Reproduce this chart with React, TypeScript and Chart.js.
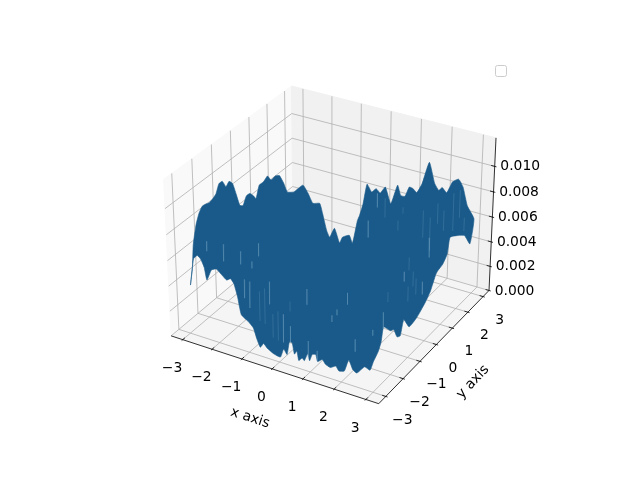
import React, { useEffect, useRef } from "react";
import { Chart, registerables } from "chart.js";

Chart.register(...registerables);

// Tick values and labels
const xTicks = [-3, -2, -1, 0, 1, 2, 3];
const yTicks = [-3, -2, -1, 0, 1, 2, 3];
const zTicks = [0, 0.002, 0.004, 0.006, 0.008, 0.01];
const xTickLabels = ["\u22123", "\u22122", "\u22121", "0", "1", "2", "3"];
const yTickLabels = ["\u22123", "\u22122", "\u22121", "0", "1", "2", "3"];
const zTickLabels = ["0.000", "0.002", "0.004", "0.006", "0.008", "0.010"];
const xTitle = "x axis";
const yTitle = "y axis";

// Surface outline, height in thousandths, read along the four borders of the grid.
// Border y = -3, going from x = -3 to x = 3
const southX = [-2.93, -2.79, -2.66, -2.55, -2.44, -2.36, -2.2, -2.03, -1.7, -1.57, -1.46, -1.35, -1.24, -1.02, -0.85, -0.74, -0.63, -0.52, -0.41, -0.19, 0.03, 0.14, 0.25, 0.33, 0.42, 0.49, 0.57, 0.63, 0.74, 0.81, 0.92, 0.98, 1.07, 1.18, 1.24, 1.39, 1.49, 1.65, 1.82, 1.92, 2.09, 2.23, 2.36, 2.49, 2.73, 2.9];
const southZ = [3.92, 6.08, 6.44, 6.25, 5.68, 4.73, 5.63, 5.83, 5.21, 5.41, 5.1, 4.15, 2.82, 2.46, 2.07, 1.26, 0.69, 1.08, 0.81, 0.51, 0.42, 1.15, 0.8, 1.87, 1.86, 1.02, 1.33, 0.62, 0.91, 0.75, 1.39, 0.88, 1.46, 1.53, 1.02, 1.31, 1.01, 0.87, 1.13, 0.82, 0.94, 1.93, 1.27, 1.11, 1.79, 1.66];
// Border x = 3, going from y = -3 to y = 3
const eastY = [-3, -2.73, -2.57, -2.44, -2.05, -1.85, -1.65, -1.46, -1.27, -0.94, -0.49, 0, 0.32, 0.63, 0.74, 1.05, 1.32, 1.47, 2.0, 2.41, 2.79];
const eastZ = [2.4, 2.83, 3.38, 4.35, 3.54, 3.36, 2.52, 2.35, 3.38, 2.37, 2.5, 3.03, 3.56, 4.5, 4.64, 4.79, 5.27, 6.41, 5.92, 5.42, 4.29];
// Border y = 3, going from x = 3 to x = -3
const northX = [3, 2.77, 2.61, 2.46, 2.27, 2.09, 1.94, 1.83, 1.69, 1.5, 1.28, 1.11, 0.98, 0.86, 0.72, 0.58, 0.47, 0.25, 0.06, -0.11, -0.25, -0.4, -0.56, -0.69, -0.81, -0.88, -1.05, -1.16, -1.4, -1.5, -1.68, -1.85, -1.96, -2.1, -2.2, -2.44, -2.61, -2.79];
const northZ = [6.06, 6.94, 8.32, 8.84, 8.51, 7.53, 7.84, 7.55, 8.01, 9.55, 7.73, 6.9, 7.14, 7.18, 6.34, 6.32, 7.08, 5.43, 6.66, 6.06, 6.33, 5.96, 6.49, 4.81, 3.76, 3.3, 1.28, 1.87, 1.54, 0.98, 2.1, 1.24, 1.75, 3.07, 3.84, 3.68, 4.41, 4.96];
// Border x = -3, going from y = 3 to y = -3
const westY = [2.81, 2.43, 2.23, 1.99, 1.76, 1.51, 1.32, 1.09, 0.85, 0.66, 0.52, 0.33, 0.14, -0.05, -0.22, -0.4, -0.57, -0.75, -0.92, -1.1, -1.28, -1.45, -1.63, -1.8, -1.98, -2.16, -2.33, -2.5, -2.68, -2.77];
const westZ = [4.48, 4.91, 5.84, 6.74, 6.97, 6.92, 7.45, 7.24, 7.24, 6.38, 6.77, 7.17, 7.19, 6.65, 6.85, 7.95, 8.95, 9.34, 9.12, 9.73, 9.75, 9.15, 8.96, 8.88, 8.98, 9.02, 8.69, 8.0, 6.64, 4.89];

// Faint seams where the mesh shows through: grid position and top and bottom height.
// Along y = -2.5
const frontSeamX = [-2.67, -2.11, -1.54, -1.44, -1.27, -1.17, -0.94, -0.94, -0.77, -0.61, -0.51, -0.34, -0.17, 0.06, 0.06, 0.61, 0.64, 0.93, 1.41, 1.57, 1.9, 2.15, 2.7];
const frontSeamHigh = [6.94, 7.09, 6.94, 4.82, 4.78, 6.42, 7.98, 4.24, 4.6, 5.25, 2.76, 3.11, 3.01, 4.18, 2.24, 5.57, 1.5, 0.95, 4.13, 4.7, 6.22, 2.82, 3.97];
const frontSeamLow = [6.15, 5.75, 5.92, 3.33, 2.67, 5.87, 6.97, 1.9, 1.79, 3.46, 0.89, 0.78, 0.76, 3.4, 0.93, 4.34, 0.12, 0.18, 3.59, 4.24, 5.31, 1.83, 3.51];
// Along x = 3
const sideSeamY = [-2.46, -2.22, -1.29, -1.05, -0.76, -0.58, -0.18];
const sideSeamHigh = [5.5, 6.72, 7.11, 5.66, 6.46, 5.69, 4.95];
const sideSeamLow = [4.22, 5.97, 6.35, 4.51, 5.3, 4.45, 3.94];
// Along y = 2.5
const backSeamX = [-0.23, 0.07, 0.33, 0.77, 0.93, 1.17, 1.6, 1.83, 1.83, 2.07, 2.27, 2.57, 2.77, 2.93];
const backSeamHigh = [4.32, 6.73, 6.51, 5.0, 6.17, 2.26, 6.37, 5.95, 4.33, 7.24, 6.81, 8.38, 8.74, 6.68];
const backSeamLow = [2.92, 5.58, 4.95, 4.18, 5.67, 1.2, 4.18, 3.28, 2.71, 5.62, 5.19, 5.39, 6.57, 5.63];

// Axis limits
const xyLimit = 3.4;
const zTop = 0.0122;

function project(x: number, y: number, z: number) {
  const bx = 1.1905, bz = 0.8929;
  const X = (x / xyLimit) * bx * 0.5;
  const Y = (y / xyLimit) * bx * 0.5;
  const Z = (z / zTop - 0.5) * bz;
  const u = 0.866025 * X + 0.5 * Y;
  const v = -0.25 * X + 0.433013 * Y + 0.866025 * Z;
  const w = 0.433013 * X - 0.75 * Y + 0.5 * Z;
  const d = 10 - w;
  return { x: 333.0 + 1997.8 * (u / d), y: 237.2 - 1997.8 * (v / d) };
}

const L = xyLimit;
const tickUnit = (2 * L) / 12;

function polyline(points: number[][]) {
  return points.map(([x, y, z]) => project(x, y, z));
}

function lineSet(points: number[][], color: string, width: number) {
  return { data: polyline(points), showLine: true, borderColor: color, borderWidth: width, pointRadius: 0, fill: false, tension: 0, clip: false };
}

function paneSet(points: number[][], color: string) {
  return { data: polyline(points), showLine: true, borderColor: color, borderWidth: 1, backgroundColor: color, pointRadius: 0, fill: "shape", tension: 0, clip: false };
}

function buildDatasets() {
  const sets: any[] = [];
  const gridColor = "#b0b0b0";
  sets.push(paneSet([[-L, -L, 0], [-L, L, 0], [-L, L, zTop], [-L, -L, zTop], [-L, -L, 0]], "#f9f9f9"));
  sets.push(paneSet([[-L, L, 0], [L, L, 0], [L, L, zTop], [-L, L, zTop], [-L, L, 0]], "#f1f1f1"));
  sets.push(paneSet([[-L, -L, 0], [L, -L, 0], [L, L, 0], [-L, L, 0], [-L, -L, 0]], "#f5f5f5"));
  xTicks.forEach((t) => sets.push(lineSet([[t, -L, 0], [t, L, 0], [t, L, zTop]], gridColor, 0.8)));
  yTicks.forEach((t) => sets.push(lineSet([[L, t, 0], [-L, t, 0], [-L, t, zTop]], gridColor, 0.8)));
  zTicks.forEach((t) => sets.push(lineSet([[-L, -L, t], [-L, L, t], [L, L, t]], gridColor, 0.8)));
  sets.push(lineSet([[-L, -L, 0], [L, -L, 0]], "#000", 0.8));
  sets.push(lineSet([[L, -L, 0], [L, L, 0]], "#000", 0.8));
  sets.push(lineSet([[L, L, 0], [L, L, zTop]], "#000", 0.8));
  xTicks.forEach((t) => sets.push(lineSet([[t, -L - 0.1 * tickUnit, 0], [t, -L + 0.2 * tickUnit, 0]], "#000", 0.8)));
  yTicks.forEach((t) => sets.push(lineSet([[L + 0.1 * tickUnit, t, 0], [L - 0.2 * tickUnit, t, 0]], "#000", 0.8)));
  zTicks.forEach((t) => sets.push(lineSet([[L + 0.1 * tickUnit, L, t], [L - 0.2 * tickUnit, L, t]], "#000", 0.8)));

  const outline: number[][] = [];
  southX.forEach((x, i) => outline.push([x, -3, southZ[i] / 1000]));
  eastY.forEach((y, i) => outline.push([3, y, eastZ[i] / 1000]));
  northX.forEach((x, i) => outline.push([x, 3, northZ[i] / 1000]));
  westY.forEach((y, i) => outline.push([-3, y, westZ[i] / 1000]));
  outline.push(outline[0]);
  sets.push({ data: polyline(outline), showLine: true, borderColor: "#195a8a", borderWidth: 0.6, backgroundColor: "#195a8a", pointRadius: 0, fill: "shape", tension: 0.15, clip: false });

  const seamColor = "rgba(150,190,215,0.22)";
  const seam = (x: number, y: number, hi: number, lo: number) => sets.push(lineSet([[x, y, hi / 1000], [x, y, lo / 1000]], seamColor, 0.9));
  frontSeamX.forEach((x, i) => seam(x, -2.5, frontSeamHigh[i], frontSeamLow[i]));
  sideSeamY.forEach((y, i) => seam(3, y, sideSeamHigh[i], sideSeamLow[i]));
  backSeamX.forEach((x, i) => seam(x, 2.5, backSeamHigh[i], backSeamLow[i]));

  const n = sets.length;
  sets.forEach((s, i) => (s.order = n - i));
  return sets;
}

const textPlugin = {
  id: "axisText",
  afterDraw(chart: any) {
    const ctx = chart.ctx;
    const sx = chart.scales.x;
    const sy = chart.scales.y;
    const put = (pt: { x: number; y: number }, dx: number, dy: number, s: string) => {
      ctx.fillText(s, sx.getPixelForValue(pt.x) + dx, sy.getPixelForValue(pt.y) + dy);
    };
    ctx.save();
    ctx.fillStyle = "#000";
    ctx.font = '13.89px "DejaVu Sans"';
    ctx.textAlign = "center";
    ctx.textBaseline = "middle";
    xTicks.forEach((t, i) => put(project(t, -L, 0), -10.7, 28.5, xTickLabels[i]));
    yTicks.forEach((t, i) => put(project(L, t, 0), 16.5, 23.5, yTickLabels[i]));
    zTicks.forEach((t, i) => put(project(L, L, t), 25.5, 0.5, zTickLabels[i]));
    const rotated = (s: string, x: number, y: number, deg: number) => {
      ctx.save();
      ctx.translate(x, y);
      ctx.rotate((deg * Math.PI) / 180);
      ctx.fillText(s, 0, 0);
      ctx.restore();
    };
    rotated(xTitle, 250, 418, 18);
    rotated(yTitle, 473, 382, -47);
    ctx.strokeStyle = "#cccccc";
    ctx.lineWidth = 1;
    ctx.fillStyle = "rgba(255,255,255,0.8)";
    ctx.beginPath();
    ctx.roundRect(495.5, 65.5, 11, 11, 2);
    ctx.fill();
    ctx.stroke();
    ctx.restore();
  },
};

export default function App() {
  const ref = useRef<HTMLCanvasElement>(null);
  useEffect(() => {
    const chart = new Chart(ref.current as HTMLCanvasElement, {
      type: "scatter",
      data: { datasets: buildDatasets() },
      options: {
        animation: false,
        responsive: false,
        layout: { padding: 0 },
        plugins: { legend: { display: false }, tooltip: { enabled: false }, title: { display: false } },
        scales: {
          x: { type: "linear", min: 0, max: 640, display: false },
          y: { type: "linear", min: 0, max: 480, reverse: true, display: false },
        },
      },
      plugins: [textPlugin],
    } as any);
    return () => chart.destroy();
  }, []);
  return (
    <div style={{ position: "fixed", left: 0, top: 0, width: 640, height: 480, background: "#fff" }}>
      <canvas ref={ref} width={640} height={480} style={{ display: "block" }} />
    </div>
  );
}
